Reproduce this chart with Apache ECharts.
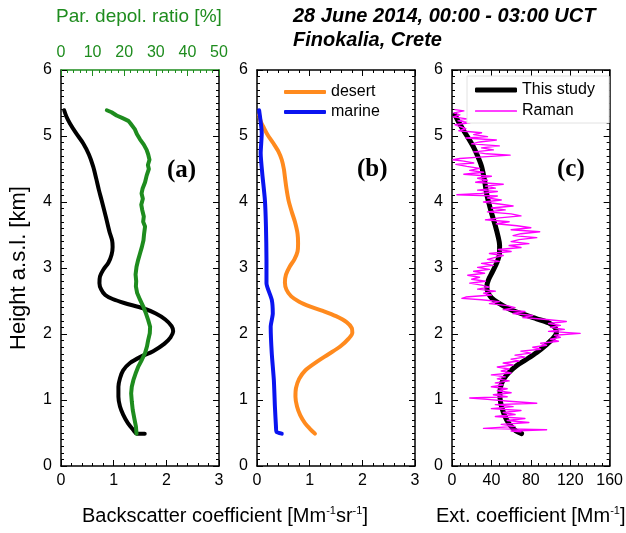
<!DOCTYPE html>
<html><head><meta charset="utf-8">
<script src="https://cdn.jsdelivr.net/npm/echarts@6/dist/echarts.min.js"></script>
<style>html,body{margin:0;padding:0;background:#fff}#c{width:626px;height:533px}</style>
</head><body><div id="c"></div>
<script>
// ---- data: [value, height km] ----
const totalBackscatter = [[0.06,5.39],[0.10,5.30],[0.17,5.19],[0.28,5.05],[0.42,4.89],[0.53,4.72],[0.61,4.54],[0.67,4.35],[0.72,4.18],[0.77,4.03],[0.85,3.78],[0.92,3.55],[0.97,3.42],[0.98,3.32],[0.96,3.20],[0.90,3.08],[0.80,2.97],[0.74,2.87],[0.73,2.77],[0.76,2.68],[0.84,2.59],[0.98,2.53],[1.20,2.47],[1.56,2.39],[1.80,2.31],[1.98,2.22],[2.10,2.12],[2.13,2.04],[2.08,1.95],[1.96,1.85],[1.75,1.74],[1.50,1.65],[1.31,1.56],[1.18,1.45],[1.12,1.33],[1.09,1.20],[1.09,1.05],[1.12,0.90],[1.18,0.78],[1.27,0.65],[1.37,0.55],[1.44,0.49],[1.59,0.49]];
const depolRatio = [[14.5,5.39],[16.0,5.36],[17.6,5.31],[19.5,5.27],[21.3,5.23],[22.0,5.19],[23.4,5.10],[24.0,5.03],[25.0,4.95],[26.2,4.87],[27.1,4.79],[27.6,4.72],[28.0,4.64],[27.5,4.56],[27.8,4.50],[27.1,4.40],[26.6,4.30],[25.8,4.20],[25.5,4.13],[25.9,4.05],[25.4,3.96],[25.7,3.88],[26.2,3.78],[26.0,3.70],[26.6,3.63],[26.3,3.52],[26.1,3.42],[25.6,3.32],[25.0,3.22],[24.4,3.12],[23.9,3.02],[23.6,2.90],[23.8,2.80],[23.7,2.72],[24.1,2.62],[25.0,2.52],[26.0,2.42],[26.9,2.31],[27.6,2.21],[28.2,2.11],[28.1,2.01],[27.6,1.91],[27.2,1.81],[26.6,1.71],[25.6,1.61],[24.5,1.51],[23.6,1.40],[22.9,1.30],[22.4,1.20],[22.2,1.10],[22.4,0.98],[22.7,0.85],[23.2,0.72],[23.7,0.60],[23.9,0.49]];
const desertBackscatter = [[0.04,5.32],[0.07,5.22],[0.12,5.14],[0.20,5.02],[0.31,4.89],[0.41,4.76],[0.47,4.64],[0.51,4.50],[0.53,4.38],[0.56,4.20],[0.60,4.02],[0.66,3.85],[0.72,3.70],[0.77,3.52],[0.78,3.37],[0.77,3.25],[0.71,3.13],[0.62,3.02],[0.55,2.90],[0.53,2.78],[0.56,2.67],[0.65,2.57],[0.80,2.49],[1.00,2.42],[1.25,2.35],[1.50,2.27],[1.70,2.18],[1.80,2.09],[1.81,2.02],[1.74,1.93],[1.58,1.81],[1.35,1.69],[1.12,1.57],[0.92,1.45],[0.80,1.32],[0.74,1.18],[0.73,1.05],[0.76,0.90],[0.82,0.77],[0.91,0.65],[1.01,0.56],[1.10,0.49]];
const marineBackscatter = [[0.04,5.39],[0.09,5.04],[0.07,4.74],[0.10,4.43],[0.15,4.03],[0.17,3.63],[0.18,3.12],[0.18,2.77],[0.28,2.52],[0.30,2.31],[0.26,2.11],[0.28,1.71],[0.32,1.30],[0.34,0.90],[0.36,0.60],[0.37,0.52],[0.47,0.49]];
const extThisStudy = [[3.0,5.32],[6.5,5.22],[11.5,5.09],[16.5,4.97],[21.6,4.84],[26.5,4.68],[30.0,4.54],[33.0,4.33],[35.1,4.13],[37.5,3.98],[40.2,3.83],[43.8,3.65],[46.9,3.47],[48.3,3.35],[48.2,3.22],[45.5,3.08],[41.0,2.94],[37.0,2.82],[35.3,2.72],[36.5,2.63],[40.0,2.55],[47.0,2.47],[58.0,2.38],[72.0,2.30],[86.0,2.23],[98.0,2.17],[104.5,2.10],[106.0,2.02],[103.0,1.94],[96.0,1.84],[86.0,1.72],[75.0,1.61],[65.5,1.52],[58.0,1.42],[52.5,1.32],[49.3,1.20],[48.6,1.08],[49.5,0.95],[52.0,0.82],[55.4,0.70],[60.0,0.60],[65.0,0.53],[70.6,0.49]];
const extRaman = [[3,5.40],[12,5.38],[2,5.35],[8,5.32],[1,5.29],[15,5.26],[6,5.23],[18,5.20],[3,5.17],[9,5.14],[14,5.11],[7,5.08],[30,5.05],[22,5.02],[36,4.99],[14,4.97],[45,4.94],[28,4.91],[20,4.88],[48,4.85],[30,4.82],[42,4.79],[22,4.76],[35,4.73],[59,4.71],[28,4.68],[8,4.66],[1,4.64],[12,4.62],[22,4.59],[4,4.57],[15,4.54],[28,4.51],[18,4.48],[32,4.45],[12,4.42],[40,4.39],[26,4.36],[36,4.33],[24,4.30],[52,4.27],[34,4.24],[44,4.21],[26,4.18],[46,4.16],[30,4.13],[5,4.11],[46,4.09],[36,4.06],[50,4.03],[32,4.00],[48,3.97],[62,3.94],[40,3.91],[54,3.88],[36,3.85],[60,3.82],[70,3.79],[48,3.76],[34,3.73],[58,3.70],[45,3.67],[66,3.64],[80,3.61],[60,3.58],[89,3.55],[70,3.52],[62,3.49],[86,3.46],[68,3.43],[60,3.40],[78,3.37],[58,3.34],[70,3.31],[47,3.28],[60,3.25],[38,3.22],[52,3.19],[44,3.16],[36,3.13],[48,3.10],[30,3.07],[42,3.04],[26,3.01],[38,2.98],[22,2.95],[33,2.92],[16,2.89],[28,2.86],[20,2.83],[34,2.80],[18,2.77],[30,2.74],[38,2.71],[26,2.68],[44,2.65],[32,2.62],[40,2.59],[14,2.56],[10,2.54],[30,2.52],[48,2.49],[38,2.46],[56,2.43],[64,2.40],[52,2.37],[74,2.34],[62,2.31],[82,2.28],[72,2.25],[96,2.22],[116,2.19],[98,2.16],[110,2.13],[100,2.10],[114,2.07],[98,2.04],[130,2.01],[104,1.98],[110,1.95],[100,1.92],[108,1.89],[90,1.86],[96,1.83],[82,1.80],[90,1.77],[70,1.74],[80,1.71],[64,1.68],[74,1.65],[60,1.62],[68,1.59],[52,1.56],[62,1.53],[46,1.50],[58,1.47],[50,1.44],[60,1.41],[40,1.38],[54,1.35],[46,1.32],[58,1.29],[44,1.26],[52,1.23],[40,1.20],[56,1.17],[46,1.14],[60,1.11],[42,1.08],[56,1.05],[18,1.03],[36,1.01],[58,0.98],[86,0.95],[44,0.93],[62,0.90],[40,0.87],[70,0.84],[52,0.81],[64,0.78],[44,0.75],[74,0.72],[56,0.69],[78,0.66],[50,0.63],[64,0.60],[32,0.57],[96,0.55],[60,0.53],[70,0.52]];

const FONT = 'Liberation Sans';
const GREEN = '#1e8c1e';
const gridLeft = [61, 257, 452];
const xMax = [3, 3, 160];
const xInterval = [1, 1, 40];

const grids = gridLeft.map(l => ({left: l, top: 70, width: 158, height: 396}));
const xAxes = [], yAxes = [];
gridLeft.forEach((l, i) => {
  const base = {
    type: 'value', gridIndex: i, min: 0, max: xMax[i], interval: xInterval[i],
    axisLine: {onZero: false, lineStyle: {color: '#000', width: 1.5}},
    axisTick: {inside: true, length: 6, lineStyle: {color: '#000', width: 1}},
    minorTick: {show: true, splitNumber: 5, length: 3, lineStyle: {color: '#000', width: 1}},
    splitLine: {show: false}, minorSplitLine: {show: false}
  };
  xAxes.push(Object.assign({}, base, {position: 'bottom',
    axisLabel: {margin: 7, fontSize: 16, color: '#000', fontFamily: FONT}}));
  if (i === 0) {
    xAxes.push(Object.assign({}, base, {position: 'top', min: 0, max: 50, interval: 10,
      axisLine: {onZero: false, lineStyle: {color: GREEN, width: 1.5}},
      axisTick: {inside: true, length: 6, lineStyle: {color: GREEN, width: 1}},
      minorTick: {show: true, splitNumber: 5, length: 3, lineStyle: {color: GREEN, width: 1}},
      axisLabel: {margin: 9, fontSize: 16, color: GREEN, fontFamily: FONT}}));
  } else {
    xAxes.push(Object.assign({}, base, {position: 'top', axisLabel: {show: false}}));
  }
  const ybase = {
    type: 'value', gridIndex: i, min: 0, max: 6, interval: 1,
    axisLine: {onZero: false, lineStyle: {color: '#000', width: 1.5}},
    axisTick: {inside: true, length: 6, lineStyle: {color: '#000', width: 1}},
    minorTick: {show: true, splitNumber: 10, length: 3, lineStyle: {color: '#000', width: 1}},
    splitLine: {show: false}, minorSplitLine: {show: false}
  };
  const left = Object.assign({}, ybase, {position: 'left',
    axisLabel: {margin: 9, fontSize: 16, color: '#000', fontFamily: FONT}});
  if (i === 0) {
    Object.assign(left, {name: 'Height a.s.l. [km]', nameLocation: 'middle', nameRotate: 90, nameGap: 31,
      nameTextStyle: {fontSize: 22, color: '#000', fontFamily: FONT}});
  }
  yAxes.push(left);
  yAxes.push(Object.assign({}, ybase, {position: 'right', axisLabel: {show: false}}));
});

function line(name, data, xi, yi, color, width, smooth) {
  return {type: 'line', name: name, data: data, xAxisIndex: xi, yAxisIndex: yi,
    symbol: 'none', smooth: smooth, lineStyle: {color: color, width: width, cap: 'round', join: 'round'},
    itemStyle: {color: color}, z: 2, silent: true, animation: false};
}

const series = [
  line('total', totalBackscatter, 0, 0, '#000', 4, 0.3),
  line('depol', depolRatio, 1, 0, GREEN, 4, false),
  line('desert', desertBackscatter, 2, 2, '#ff8a1e', 4, 0.3),
  line('marine', marineBackscatter, 2, 2, '#0a14f0', 4, 0.2),
  line('This study', extThisStudy, 4, 4, '#000', 5, 0.3),
  line('Raman', extRaman, 4, 4, '#ff00ff', 1.4, false)
];

function leg(name, left, top, h) {
  return {data: [name], left: left, top: top, orient: 'vertical', padding: 0,
    itemWidth: 42, itemHeight: h, icon: 'roundRect', selectedMode: false,
    textStyle: {fontSize: 16, lineHeight: 16, color: '#000', fontFamily: FONT}};
}

const subStyle = {fontSize: 11, lineHeight: 11, verticalAlign: 'top', fontWeight: 'normal', color: '#000', fontFamily: FONT};
const mainStyle = {fontSize: 20, lineHeight: 22, fontWeight: 'normal', color: '#000', fontFamily: FONT};

const option = {
  animation: false,
  backgroundColor: '#fff',
  grid: grids, xAxis: xAxes, yAxis: yAxes, series: series,
  legend: [leg('desert', 284, 84, 4), leg('marine', 284, 104, 4),
           leg('This study', 475, 82, 5), leg('Raman', 475, 103, 1.5)],
  title: [
    {text: 'Par. depol. ratio [%]', left: 56, top: 7, padding: 0,
      textStyle: {fontSize: 19, fontWeight: 'normal', color: GREEN, fontFamily: FONT}},
    {text: '28 June 2014, 00:00 - 03:00 UCT', left: 293, top: 6, padding: 0,
      textStyle: {fontSize: 20, fontWeight: 'bold', fontStyle: 'italic', color: '#000', fontFamily: FONT}},
    {text: 'Finokalia, Crete', left: 293, top: 30, padding: 0,
      textStyle: {fontSize: 20, fontWeight: 'bold', fontStyle: 'italic', color: '#000', fontFamily: FONT}},
    {text: '(a)', left: 167, top: 158, padding: 0,
      textStyle: {fontSize: 25, fontWeight: 'bold', color: '#000', fontFamily: 'Liberation Serif'}},
    {text: '(b)', left: 357, top: 157, padding: 0,
      textStyle: {fontSize: 25, fontWeight: 'bold', color: '#000', fontFamily: 'Liberation Serif'}},
    {text: '(c)', left: 557, top: 157, padding: 0,
      textStyle: {fontSize: 25, fontWeight: 'bold', color: '#000', fontFamily: 'Liberation Serif'}},
    {text: '{m|Backscatter coefficient [Mm}{s|-1}{m|sr}{s|-1}{m|]}', left: 82, top: 505, padding: 0,
      textStyle: {fontWeight: 'normal', rich: {m: mainStyle, s: subStyle}}},
    {text: '{m|Ext. coefficient [Mm}{s|-1}{m|]}', left: 436, top: 505, padding: 0,
      textStyle: {fontWeight: 'normal', rich: {m: mainStyle, s: subStyle}}}
  ],
  graphic: [{type: 'rect', z: 3, silent: true,
    shape: {x: 467, y: 76, width: 142, height: 47},
    style: {fill: '#fff', stroke: '#e2e2e2', lineWidth: 1}}]
};

const chart = echarts.init(document.getElementById('c'), null, {renderer: 'canvas'});
chart.setOption(option);
</script></body></html>
